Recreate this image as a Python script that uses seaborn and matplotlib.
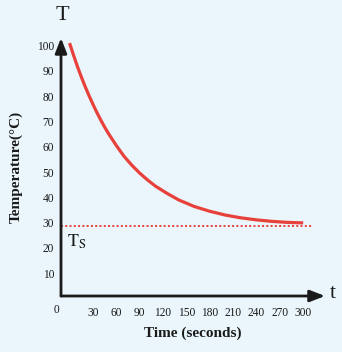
import numpy as np
import pandas as pd
import matplotlib
matplotlib.use("Agg")
import matplotlib.pyplot as plt
import seaborn as sns

# ---- data ----
time_s = [0, 5, 10, 15, 20, 25, 30, 35, 40, 45, 50, 60, 70, 80, 90, 100, 110, 125,
          140, 160, 180, 200, 220, 240, 260, 280, 300]
temp_c = [101, 96.3, 91.8, 87.7, 83.8, 80.2, 76.8, 73.6, 70.6, 67.8, 65.2, 60.5, 56.2,
          52.7, 49.6, 46.9, 44.5, 41.6, 39.0, 36.4, 34.5, 33.0, 31.9, 31.1, 30.5, 30.1, 29.9]
ts_value = 28.5
x_ticks = [30, 60, 90, 120, 150, 180, 210, 240, 270, 300]
y_ticks = [10, 20, 30, 40, 50, 60, 70, 80, 90, 100]

BG = "#eaf6fb"
RED = "#e8403a"
INK = "#1a1a1a"

sns.set_style("white", {"axes.facecolor": BG, "figure.facecolor": BG})
plt.rcParams["font.family"] = ["Liberation Serif", "DejaVu Serif"]
plt.rcParams["mathtext.fontset"] = "stix"

fig = plt.figure(figsize=(3.42, 3.52), dpi=100)
fig.patch.set_facecolor(BG)
W, H = 342, 352
ax = fig.add_axes([61 / W, 1 - 296 / H, (325 - 61) / W, (296 - 38) / H])
ax.set_facecolor(BG)

df = pd.DataFrame({"t": time_s, "T": temp_c})
sns.lineplot(data=df, x="t", y="T", ax=ax, color=RED, lw=2.3, solid_capstyle="butt")
ax.plot([-11, 311], [ts_value, ts_value], color=RED, lw=1.4, ls=(0, (1, 1.2)))

ax.set_xlim(-11, 328)
ax.set_ylim(1, 103)
for s in ax.spines.values():
    s.set_visible(False)

# axes with arrows
arrow_kw = dict(arrowstyle="-|>,head_length=0.9,head_width=0.35", lw=2.0, color=INK,
                shrinkA=0, shrinkB=0)
ax.annotate("", xy=(1, 0), xytext=(0, 0), xycoords="axes fraction",
            textcoords="axes fraction", arrowprops=arrow_kw, annotation_clip=False)
ax.annotate("", xy=(0, 1), xytext=(0, 0), xycoords="axes fraction",
            textcoords="axes fraction", arrowprops=arrow_kw, annotation_clip=False)

# ticks
ax.set_xticks(x_ticks)
ax.set_xticklabels([str(v) for v in x_ticks])
ax.set_xticks(np.arange(5, 261, 15), minor=True)
ax.tick_params(axis="x", which="major", length=0, pad=8, labelsize=8.3, labelcolor=INK)
ax.tick_params(axis="x", which="minor", length=4, width=1.0, direction="in", color="#7a7a6a")
ax.set_yticks(y_ticks)
ax.set_yticklabels([str(v) for v in y_ticks])
ax.tick_params(axis="y", which="major", length=4, width=1.0, direction="in",
               color="#7a7a6a", pad=5, labelsize=8.3, labelcolor=INK)

ax.set_xlabel("Time (seconds)", fontsize=11, fontweight="bold", color=INK, labelpad=5)
ax.set_ylabel("Temperature(°C)", fontsize=11, fontweight="bold", color=INK, labelpad=10)

ax.annotate("0", xy=(0, 0), xycoords="axes fraction", xytext=(-3, -10),
            textcoords="offset points", fontsize=8.3, color=INK, ha="center", va="center",
            annotation_clip=False)
fig.text(62 / W, 1 - 15 / H, "T", fontsize=16, color=INK, ha="center", va="center")
fig.text(333 / W, 1 - 294 / H, "t", fontsize=16, color=INK, ha="center", va="center")
ax.text(-3.5, 22.5, r"$\mathrm{T_S}$", fontsize=13, color=INK, ha="left", va="center")

fig.savefig("out.png", dpi=100, facecolor=BG)
